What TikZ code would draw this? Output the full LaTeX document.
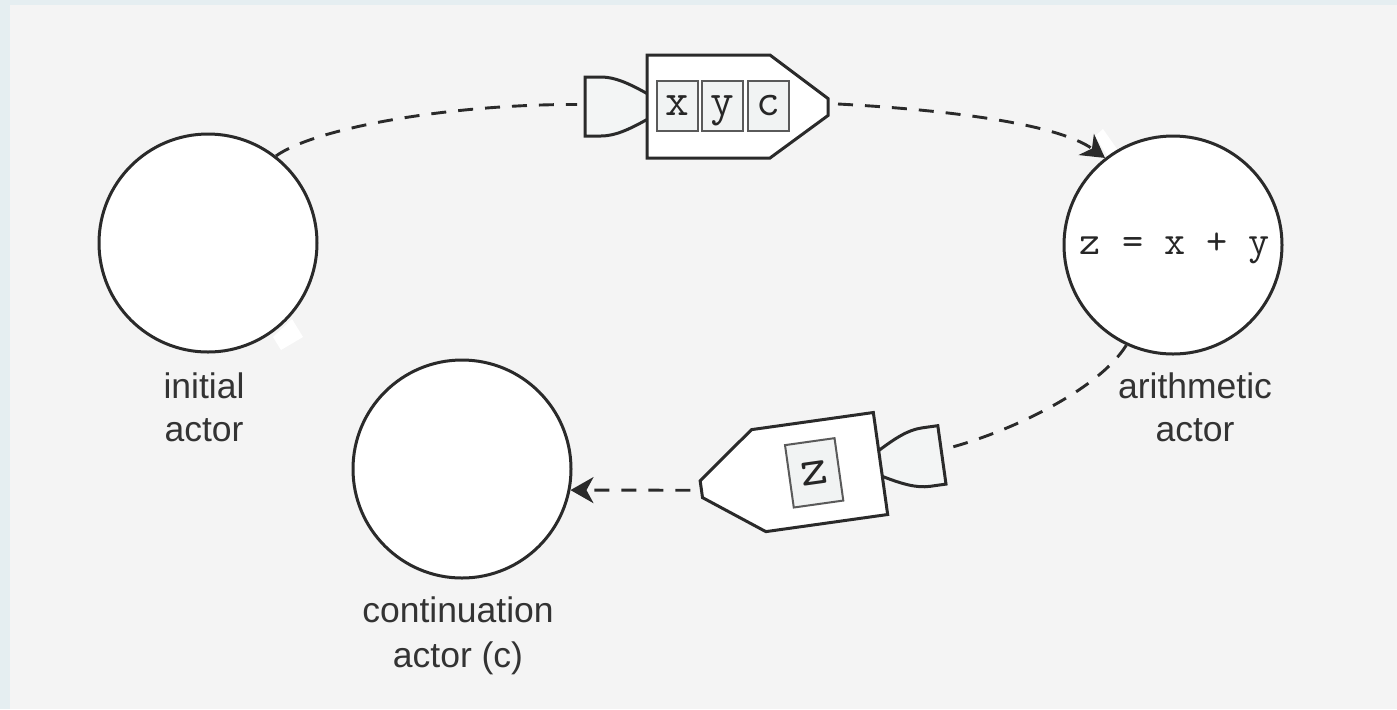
\documentclass[tikz,border=0pt]{standalone}
\usepackage{fontspec}
\setmainfont{Liberation Sans}
\usetikzlibrary{arrows.meta}
\definecolor{bg}{HTML}{F4F4F4}
\definecolor{rim}{HTML}{E5EEF1}
\definecolor{ink}{HTML}{2A2A2A}
\definecolor{txt}{HTML}{333333}
\definecolor{code}{HTML}{262626}
\definecolor{cell}{HTML}{F1F3F3}
\definecolor{cellrule}{HTML}{5A5A5A}
\definecolor{nozzle}{HTML}{F3F5F5}
\newcommand\codefont[1]{\ttfamily\fontsize{#1}{#1}\selectfont\addfontfeatures{FakeBold=0.7}}
\begin{document}
\begin{tikzpicture}[x=0.5pt,y=-0.5pt,
  actor/.style={circle,draw=ink,fill=white,line width=1.5pt,minimum size=109pt,inner sep=0pt},
  caption/.style={anchor=base,text=txt,inner sep=0pt,font=\fontsize{17.75}{22}\selectfont},
  body/.style={draw=ink,fill=white,line width=1.5pt,line join=miter},
  tail/.style={draw=ink,fill=nozzle,line width=1.5pt},
  cellbox/.style={draw=cellrule,fill=cell,line width=1pt,inner sep=0pt,
    minimum width=20.5pt,minimum height=25pt,text=code,
    font=\codefont{23},text height=9.9pt,text depth=0pt},
  bigcell/.style={cellbox,minimum width=25pt,minimum height=31.5pt,
    font=\codefont{26.5},text height=11.4pt},
  formula/.style={text=code,inner sep=0pt,font=\codefont{20.5},
    text height=8.84pt,text depth=0pt},
  msg/.style={draw=ink,line width=1.45pt,dash pattern=on 7.5pt off 6pt},
  tip/.style={-{Stealth[length=11.5pt,width=13pt,inset=3.5pt]}}
]
% canvas
\fill[bg] (0,0) rectangle (1397,709);
\fill[rim] (0,0) rectangle (1397,5);
\fill[rim] (0,0) rectangle (10,709);
\useasboundingbox (0,0) rectangle (1397,709);

% white knock-outs
\fill[white] (273,337) -- (292,319) -- (303,337) -- (281,350) -- cycle;
\fill[white] (1095,136) -- (1103,129) -- (1117,149) -- (1108,157) -- cycle;

% actors
\node[actor] (init) at (208,243) {};
\node[actor] (arith) at (1173,245) {};
\node[actor] (cont) at (462,469) {};
\node[formula] (sum) at (1175,246) {z = x + y};

\node[caption] (initA) at (204,398) {initial};
\node[caption] (initB) at (204,441) {actor};
\node[caption] (arithA) at (1195,398) {arithmetic};
\node[caption] (arithB) at (1195,441) {actor};
\node[caption] (contA) at (458,622) {continuation};
\node[caption] (contB) at (458,667) {actor (c)};

% request message carrying x, y and c
\begin{scope}[shift={(647,106.5)}]
  \draw[tail] (0,-13) .. controls (-18,-23) and (-32,-29.5) .. (-46,-29.5)
    -- (-62,-29.5) -- (-62,29.5) -- (-46,29.5)
    .. controls (-32,29.5) and (-18,23) .. (0,13);
  \draw[body] (0,-51.5) -- (123,-51.5) -- (181,-8) -- (181,9) -- (123,51.5) -- (0,51.5) -- cycle;
  \node[cellbox] (cx) at (30.5,-0.5) {x};
  \node[cellbox] (cy) at (75.5,-0.5) {y};
  \node[cellbox] (cc) at (121.5,-0.5) {c};
  \coordinate (m1in) at (-70,-2);
  \coordinate (m1out) at (191,-2.5);
\end{scope}

% reply message carrying z
\begin{scope}[shift={(880.5,463.5)},rotate=8]
  \draw[tail] (0,-13) .. controls (18,-23) and (32,-29.5) .. (46,-29.5)
    -- (62,-29.5) -- (62,29.5) -- (46,29.5)
    .. controls (32,29.5) and (18,23) .. (0,13);
  \draw[body] (0,-51.5) -- (-123,-51.5) -- (-181,-8) -- (-181,9) -- (-123,51.5) -- (0,51.5) -- cycle;
  \node[bigcell,transform shape] (cz) at (-67,0) {z};
  \coordinate (m2in) at (71,-6);
  \coordinate (m2out) at (-192,0);
\end{scope}

% message flow
\draw[msg] (init.52) .. controls (315,128) and (450,104) .. (m1in);
\draw[msg,tip] (m1out) .. controls (950,110) and (1058,124) .. (arith.128);
\draw[msg] (arith.245) .. controls (1100,388) and (1015,430) .. (m2in);
\draw[msg,tip] (m2out) -- (cont.-11);
\end{tikzpicture}
\end{document}
